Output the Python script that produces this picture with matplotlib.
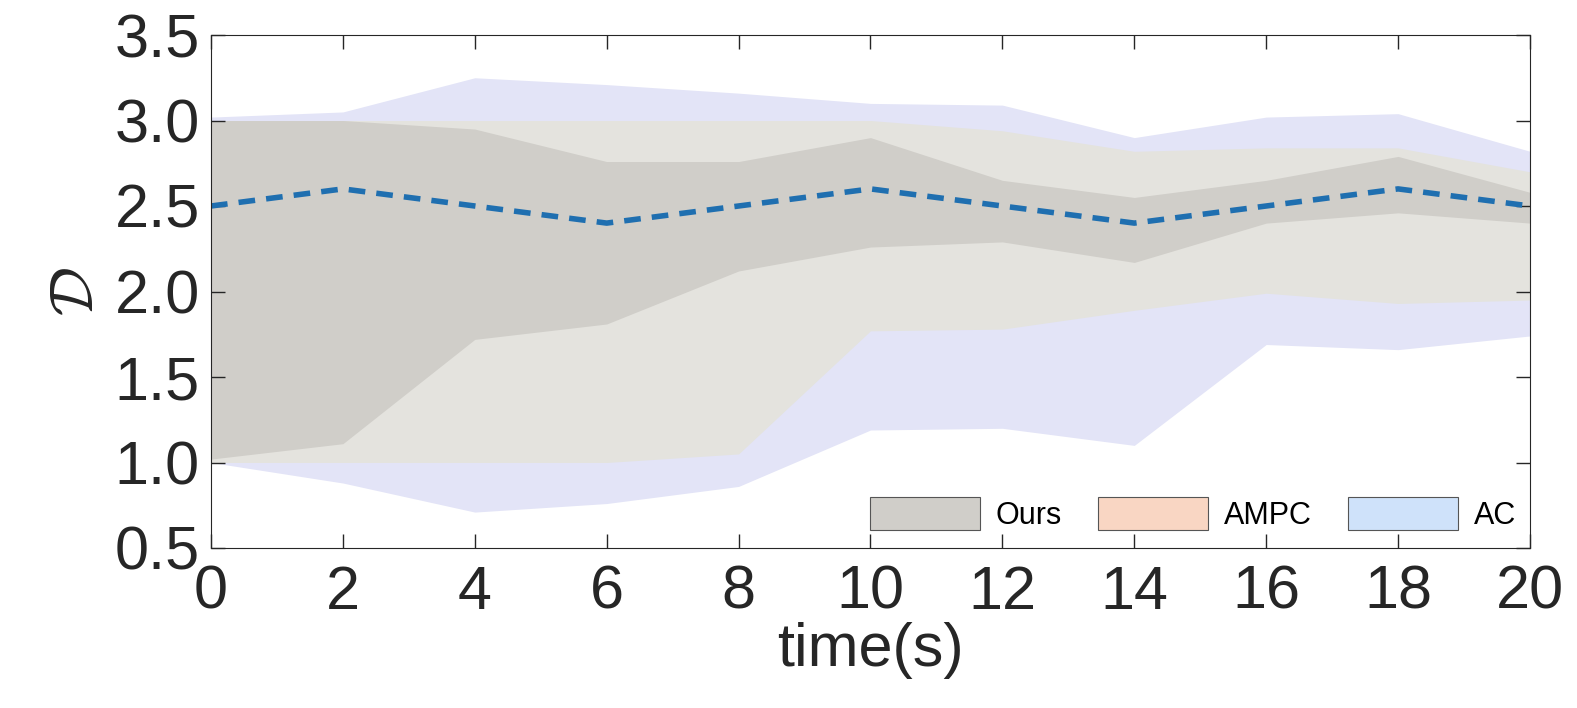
import matplotlib.pyplot as plt
from matplotlib.patches import Patch

plt.rcParams['font.family'] = 'Liberation Sans'
plt.rcParams['mathtext.fontset'] = 'cm'

t = [0, 2, 4, 6, 8, 10, 12, 14, 16, 18, 20]

ac_hi = [3.02, 3.05, 3.25, 3.21, 3.16, 3.10, 3.09, 2.90, 3.02, 3.04, 2.82]
ac_lo = [1.00, 0.88, 0.71, 0.76, 0.86, 1.19, 1.20, 1.10, 1.69, 1.66, 1.74]
ampc_hi = [3.00, 3.00, 3.00, 3.00, 3.00, 3.00, 2.94, 2.82, 2.84, 2.84, 2.70]
ampc_lo = [1.00, 1.00, 1.00, 1.00, 1.05, 1.77, 1.78, 1.89, 1.99, 1.93, 1.95]
ours_hi = [3.00, 3.00, 2.95, 2.76, 2.76, 2.90, 2.65, 2.55, 2.65, 2.79, 2.58]
ours_lo = [1.02, 1.11, 1.72, 1.81, 2.12, 2.26, 2.29, 2.17, 2.40, 2.46, 2.40]
mean = [2.5, 2.6, 2.5, 2.4, 2.5, 2.6, 2.5, 2.4, 2.5, 2.6, 2.5]

fig = plt.figure(figsize=(15.77, 7.08), dpi=100)
ax = fig.add_axes([211/1577, 1-548/708, (1530-211)/1577, (548-35)/708])

ax.fill_between(t, ac_lo, ac_hi, color='#e3e4f7', lw=0)
ax.fill_between(t, ampc_lo, ampc_hi, color='#e4e3de', lw=0)
ax.fill_between(t, ours_lo, ours_hi, color='#d0cec9', lw=0)
ax.plot(t, mean, '--', color='#1f6fb0', lw=4, dashes=(3, 2))

ax.set_xlim(0, 20)
ax.set_ylim(0.5, 3.5)
ax.set_xticks(t)
ax.set_yticks([0.5, 1.0, 1.5, 2.0, 2.5, 3.0, 3.5])
ax.set_yticklabels(['0.5', '1.0', '1.5', '2.0', '2.5', '3.0', '3.5'])
ax.tick_params(direction='in', labelsize=44, length=10, width=1, top=True, right=True, colors='#262626')
ax.tick_params(axis='x', pad=12)
ax.tick_params(axis='y', pad=8)
for s in ax.spines.values():
    s.set_color('#262626')
ax.set_xlabel('time(s)', fontsize=44, color='#262626', labelpad=0)
ax.set_ylabel(r'$\mathcal{D}$', fontsize=44, color='#262626', labelpad=6)

handles = [Patch(facecolor='#d0cec9', edgecolor='#555555', lw=0.8, label='Ours'),
           Patch(facecolor='#f9d6c3', edgecolor='#555555', lw=0.8, label='AMPC'),
           Patch(facecolor='#cfe2fa', edgecolor='#555555', lw=0.8, label='AC')]
ax.legend(handles=handles, loc='lower right', ncol=3, frameon=False, fontsize=22,
          handlelength=3.6, handleheight=1.3, columnspacing=1.2, handletextpad=0.5,
          bbox_to_anchor=(1.01, -0.02))

fig.savefig('out.png', dpi=100)
